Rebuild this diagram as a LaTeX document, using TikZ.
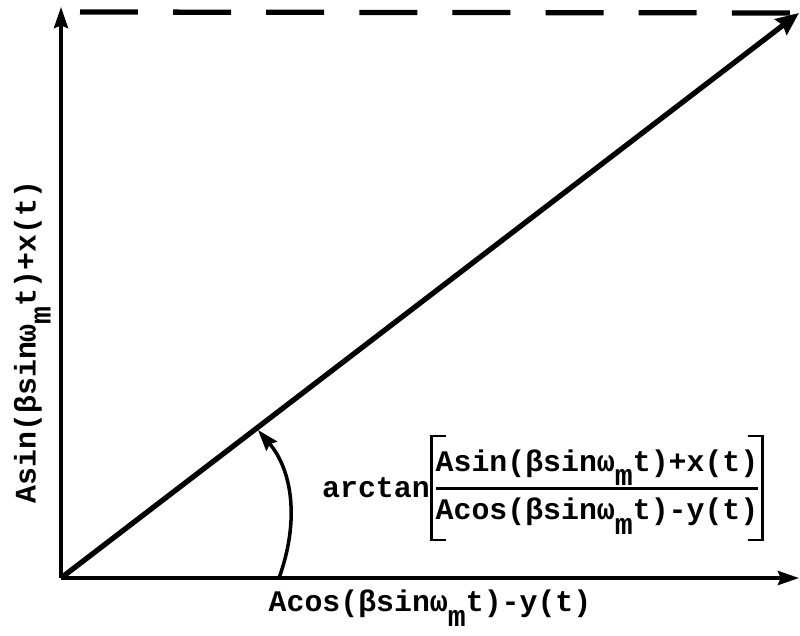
\documentclass[tikz,border=0pt]{standalone}
\usepackage{fontspec}
\setmonofont{Liberation Mono}
\usetikzlibrary{arrows.meta,positioning}
\setlength{\arrayrulewidth}{1.4pt}

\newcommand{\wmt}{ω\smash{\raisebox{-0.5em}{\makebox[0.6em]{m}}}t}

\begin{document}
\begin{tikzpicture}[x=0.02cm, y=-0.02cm, >={Stealth[length=12pt,width=8pt,inset=1.5pt]},
    font=\ttfamily\bfseries\fontsize{17}{21}\selectfont]
    \useasboundingbox (0,0) rectangle (800,635);

    % origin and ends of the axes
    \coordinate (O) at (61,578);
    \coordinate (xend) at (799,578);
    \coordinate (yend) at (61,7);
    \coordinate (vend) at (799,13);
    \coordinate (dstart) at (80,12);

    \draw[->, line width=2pt] (O) -- (xend);
    \draw[->, line width=2pt] (O) -- (yend);
    \draw[line width=3pt, dash pattern=on 33pt off 20pt] (dstart) -- (vend);

    % the phasor
    \draw[->, line width=3pt, >={Stealth[length=13pt,width=11pt,inset=1.5pt]}] (O) -- (vend);

    % angle
    \coordinate (a0) at (279,578);
    \coordinate (a1) at (258,430);
    \draw[->, line width=2pt] (a0) .. controls (300,520) and (292,470) .. (a1);

    \node (xlabel) at (430,604) {Acos(βsin\wmt)-y(t)};
    \node[rotate=90] (ylabel) at (28,342) {Asin(βsin\wmt)+x(t)};

    % arctan[ num / den ]
    \node[inner xsep=2pt, inner ysep=5pt] (frac) at (597,488)
        {\begin{tabular}{@{}c@{}}Asin(βsin\wmt)+x(t)\\[3pt]\hline\rule{0pt}{17pt}Acos(βsin\wmt)-y(t)\end{tabular}};
    \node[left=1pt of frac, inner sep=0pt] (atan) {arctan};
    \draw[line width=1.6pt] ([xshift=8pt]frac.north west) -- (frac.north west)
        -- (frac.south west) -- ++(8pt,0);
    \draw[line width=1.6pt] ([xshift=-8pt]frac.north east) -- (frac.north east)
        -- (frac.south east) -- ++(-8pt,0);
\end{tikzpicture}
\end{document}
